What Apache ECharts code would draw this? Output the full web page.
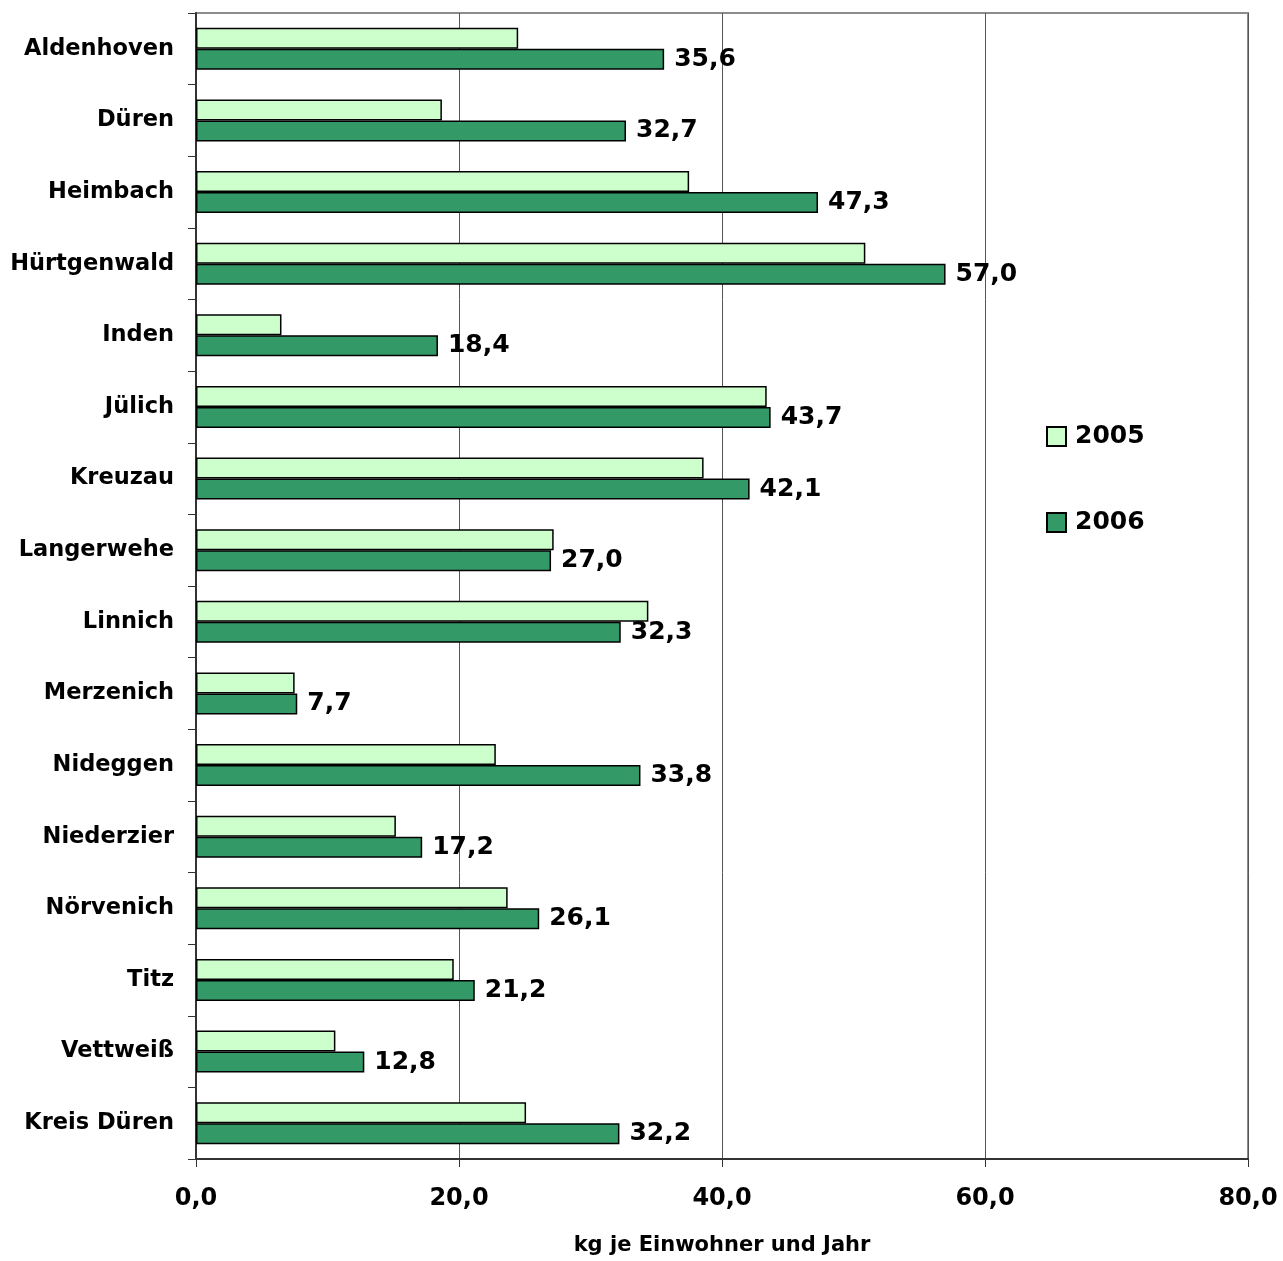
<!DOCTYPE html>
<html>
<head>
<meta charset="utf-8">
<script src="https://cdn.jsdelivr.net/npm/echarts@6/dist/echarts.min.js"></script>
<style>
html,body{margin:0;padding:0;background:#fff;}
#chart{width:1283px;height:1261px;}
</style>
</head>
<body>
<div id="chart"></div>
<script>
// Gemeinden im Kreis Düren
const categories = ['Aldenhoven','Düren','Heimbach','Hürtgenwald','Inden','Jülich','Kreuzau','Langerwehe','Linnich','Merzenich','Nideggen','Niederzier','Nörvenich','Titz','Vettweiß','Kreis Düren'];
// kg je Einwohner und Jahr
const values2005 = [24.5, 18.7, 37.5, 50.9, 6.5, 43.4, 38.6, 27.2, 34.4, 7.5, 22.8, 15.2, 23.7, 19.6, 10.6, 25.1];
const values2006 = [35.6, 32.7, 47.3, 57.0, 18.4, 43.7, 42.1, 27.0, 32.3, 7.7, 33.8, 17.2, 26.1, 21.2, 12.8, 32.2];
const seriesNames = ['2005', '2006'];
const xTicks = [0, 20, 40, 60, 80];

const FONT = '"DejaVu Sans", Verdana, sans-serif';
const fmt = v => v.toFixed(1).replace('.', ',');

const chart = echarts.init(document.getElementById('chart'), null, {renderer: 'canvas'});
chart.setOption({
  animation: false,
  backgroundColor: '#ffffff',
  grid: {left: 196, right: 35, top: 13, bottom: 98, containLabel: false,
         show: true, borderColor: '#8c8c8c', borderWidth: 2},
  legend: {
    orient: 'vertical', left: 1041, top: 419, itemGap: 61,
    itemWidth: 19, itemHeight: 19,
    data: seriesNames.map(n => ({name: n, icon: 'rect'})),
    textStyle: {fontFamily: FONT, fontWeight: 'bold', fontSize: 25, color: '#000', padding: [0, 0, 0, 4]}
  },
  xAxis: {
    type: 'value', min: xTicks[0], max: xTicks[xTicks.length - 1], interval: 20,
    name: 'kg je Einwohner und Jahr', nameLocation: 'middle', nameGap: 76,
    nameTextStyle: {fontFamily: FONT, fontWeight: 'bold', fontSize: 21, color: '#000'},
    axisLine: {show: true, lineStyle: {color: '#333', width: 2}},
    axisTick: {show: true, length: 8, lineStyle: {color: '#333', width: 1}},
    axisLabel: {margin: 28, fontFamily: FONT, fontWeight: 'bold', fontSize: 24, color: '#000',
                formatter: v => fmt(v)},
    splitLine: {show: true, lineStyle: {color: '#555', width: 1}}
  },
  yAxis: {
    type: 'category', data: categories, inverse: true,
    axisLine: {show: true, lineStyle: {color: '#333', width: 2}},
    axisTick: {show: true, length: 8, lineStyle: {color: '#333', width: 1}},
    axisLabel: {margin: 22, fontFamily: FONT, fontWeight: 'bold', fontSize: 22.5, color: '#000'},
    splitLine: {show: false}
  },
  series: [
    {
      name: seriesNames[0], type: 'bar', data: values2005,
      barWidth: 21, barGap: '0%',
      itemStyle: {color: '#ccffcc', borderColor: '#000', borderWidth: 1.5}
    },
    {
      name: seriesNames[1], type: 'bar', data: values2006,
      barWidth: 21, barGap: '0%',
      itemStyle: {color: '#339966', borderColor: '#000', borderWidth: 1.5},
      label: {show: true, position: 'right', distance: 10,
              fontFamily: FONT, fontWeight: 'bold', fontSize: 25, color: '#000',
              formatter: p => fmt(p.value)}
    }
  ]
});
</script>
</body>
</html>
